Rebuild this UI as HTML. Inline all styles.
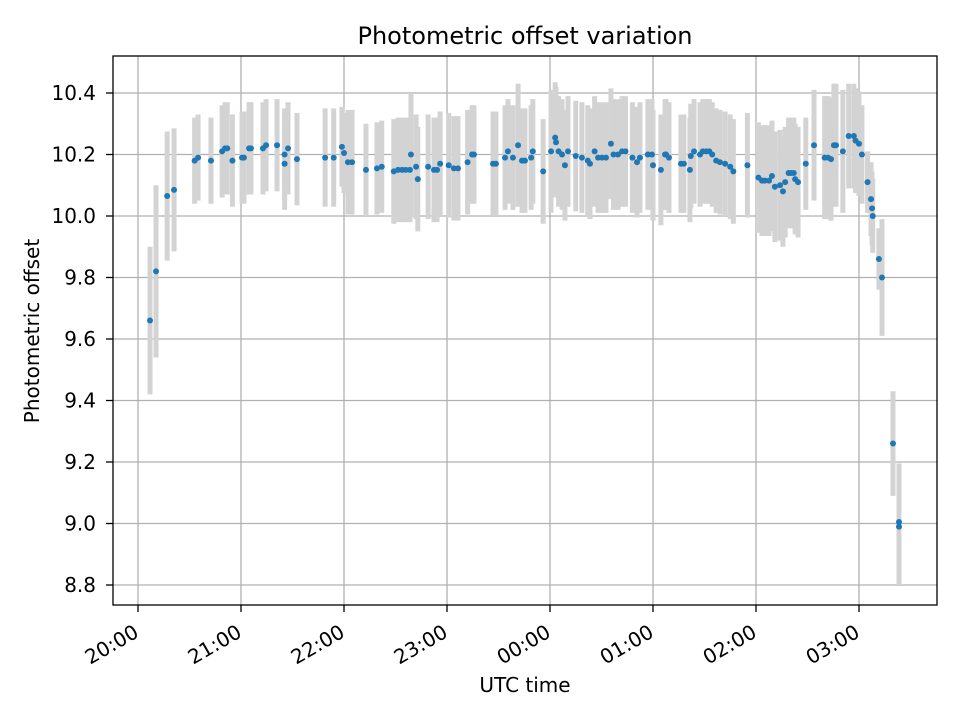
<!DOCTYPE html>
<html><head><meta charset="utf-8"><style>
body{margin:0;background:#fff;font-family:"DejaVu Sans","Liberation Sans",sans-serif}
svg text{font-family:"DejaVu Sans","Liberation Sans",sans-serif;fill:#000}
</style></head><body>
<svg id="chart" width="960" height="720" xmlns="http://www.w3.org/2000/svg">
<rect width="960" height="720" fill="#fff"/>
<g id="grid"></g><g id="bars"></g><g id="pts"></g><g id="axes"></g>
</svg>
<script>
// minutes after 20:00 UTC
const times=[7,10.5,17,21,33,35,42.5,49,50.7,52,55,60.6,61.7,64.7,65.8,72.8,74.6,81,85.4,85.4,87.4,92.6,109,114,118.8,120,122.3,124.7,132.8,139.2,142,149,151.5,153.8,156,158.4,159,162,163,169,172.4,174.2,176,181,184,186.4,192,194.6,195.7,206.8,208.5,213.8,215.5,218.4,221.4,223.7,225.4,229,230,236,240.6,243,243.5,245,247,248.7,250.5,255,258.6,262,263.3,266,268,270.3,272.6,275.5,277,279.6,282,284,288,290.7,292.4,297,299.4,300,304.6,307,307.6,309.3,316.3,318,321.5,322,323.9,327.4,329,331,332.8,334.5,336.8,339,342,345,346.8,355,361.4,363.5,365.2,367.6,369.3,371,374,375.7,377,379,380.4,382,382.8,384.5,389,393.8,400,402,403.7,405.4,406.6,410.6,414,417,418,420,421.7,425,427,427.6,428,431.6,433.4,439.8,443.3,443.3];
const offsets=[9.66,9.82,10.065,10.085,10.18,10.19,10.18,10.21,10.22,10.22,10.18,10.19,10.19,10.22,10.22,10.22,10.23,10.23,10.2,10.17,10.22,10.185,10.19,10.19,10.225,10.205,10.175,10.175,10.15,10.155,10.16,10.145,10.15,10.15,10.15,10.15,10.2,10.16,10.12,10.16,10.15,10.15,10.17,10.165,10.155,10.155,10.175,10.2,10.2,10.17,10.17,10.19,10.21,10.19,10.23,10.18,10.18,10.19,10.21,10.145,10.21,10.255,10.24,10.21,10.2,10.165,10.21,10.195,10.19,10.18,10.17,10.21,10.19,10.19,10.19,10.235,10.2,10.2,10.21,10.21,10.19,10.175,10.19,10.2,10.2,10.165,10.15,10.2,10.2,10.19,10.17,10.17,10.15,10.195,10.21,10.2,10.21,10.21,10.21,10.2,10.18,10.175,10.17,10.16,10.145,10.165,10.125,10.115,10.115,10.115,10.13,10.095,10.1,10.08,10.11,10.14,10.14,10.14,10.12,10.11,10.17,10.23,10.19,10.19,10.185,10.23,10.23,10.21,10.26,10.26,10.245,10.235,10.2,10.11,10.055,10.025,10.0,9.86,9.8,9.26,9.005,8.99];
const errors=[0.24,0.28,0.21,0.2,0.14,0.14,0.14,0.15,0.15,0.15,0.15,0.15,0.15,0.15,0.15,0.15,0.15,0.15,0.15,0.15,0.15,0.15,0.16,0.16,0.13,0.13,0.17,0.17,0.15,0.15,0.15,0.17,0.17,0.17,0.17,0.17,0.2,0.17,0.17,0.17,0.17,0.17,0.17,0.17,0.17,0.17,0.17,0.16,0.16,0.17,0.17,0.17,0.17,0.17,0.2,0.17,0.17,0.17,0.17,0.17,0.2,0.18,0.18,0.18,0.18,0.18,0.18,0.18,0.18,0.18,0.18,0.18,0.18,0.18,0.18,0.18,0.18,0.18,0.18,0.18,0.18,0.18,0.18,0.18,0.18,0.18,0.18,0.18,0.18,0.18,0.16,0.16,0.17,0.17,0.17,0.17,0.17,0.17,0.17,0.17,0.17,0.17,0.17,0.17,0.17,0.17,0.18,0.18,0.18,0.18,0.18,0.18,0.18,0.18,0.18,0.18,0.18,0.18,0.18,0.18,0.15,0.18,0.2,0.2,0.2,0.2,0.2,0.2,0.17,0.17,0.17,0.17,0.16,0.1,0.12,0.12,0.12,0.1,0.19,0.17,0.19,0.19];
const yTicks=[8.8,9.0,9.2,9.4,9.6,9.8,10.0,10.2,10.4];
const xTickLabels=["20:00","21:00","22:00","23:00","00:00","01:00","02:00","03:00"];
const L=113,R=937,T=56,B=605;
const xs=m=>138+m*103/60;
const ys=v=>216-(v-10)*307.5;
const NS="http://www.w3.org/2000/svg";
function mk(tag,attrs,parent,txt){const e=document.createElementNS(NS,tag);for(const k in attrs)e.setAttribute(k,attrs[k]);if(txt!==undefined)e.textContent=txt;parent.appendChild(e);return e;}
const grid=document.getElementById('grid'),axes=document.getElementById('axes');
yTicks.forEach(v=>{const y=ys(v);
 const g=mk('line',{x1:L,x2:R,y1:y,y2:y,stroke:'#b0b0b0','stroke-width':1.3},grid);
 
 mk('line',{x1:L-7,x2:L,y1:y,y2:y,stroke:'#000','stroke-width':1.3},axes);
 const t=mk('text',{x:L-17,y:y+7,'text-anchor':'end','font-size':20},axes,v.toFixed(1));
 });
xTickLabels.forEach((lab,i)=>{const x=xs(i*60);
 const g=mk('line',{x1:x,x2:x,y1:T,y2:B,stroke:'#b0b0b0','stroke-width':1.3},grid);
 
 mk('line',{x1:x,x2:x,y1:B,y2:B+7,stroke:'#000','stroke-width':1.3},axes);
 const ax=x+2,ay=B+31;
 const t=mk('text',{x:ax,y:ay,'text-anchor':'end','font-size':20,transform:`rotate(-30 ${ax} ${ay})`},axes,lab);
 });
const bars=document.getElementById('bars'),pts=document.getElementById('pts');
times.forEach((m,i)=>{const x=xs(m);
 const b=mk('line',{x1:x,x2:x,y1:ys(offsets[i]+errors[i]),y2:ys(offsets[i]-errors[i]),stroke:'#d3d3d3','stroke-width':5},bars);
 });
times.forEach((m,i)=>{
 const c=mk('circle',{cx:xs(m),cy:ys(offsets[i]),r:3,fill:'#1f77b4'},pts);
 });
const fr=mk('rect',{x:L,y:T,width:R-L,height:B-T,fill:'none',stroke:'#000','stroke-width':1.3},axes);

const tt=mk('text',{x:(L+R)/2,y:44,'text-anchor':'middle','font-size':24},axes,'Photometric offset variation');

const xl=mk('text',{x:(L+R)/2,y:692,'text-anchor':'middle','font-size':20},axes,'UTC time');

const yl=mk('text',{x:39,y:331,'text-anchor':'middle','font-size':20,transform:'rotate(-90 39 331)'},axes,'Photometric offset');

</script>
</body></html>
